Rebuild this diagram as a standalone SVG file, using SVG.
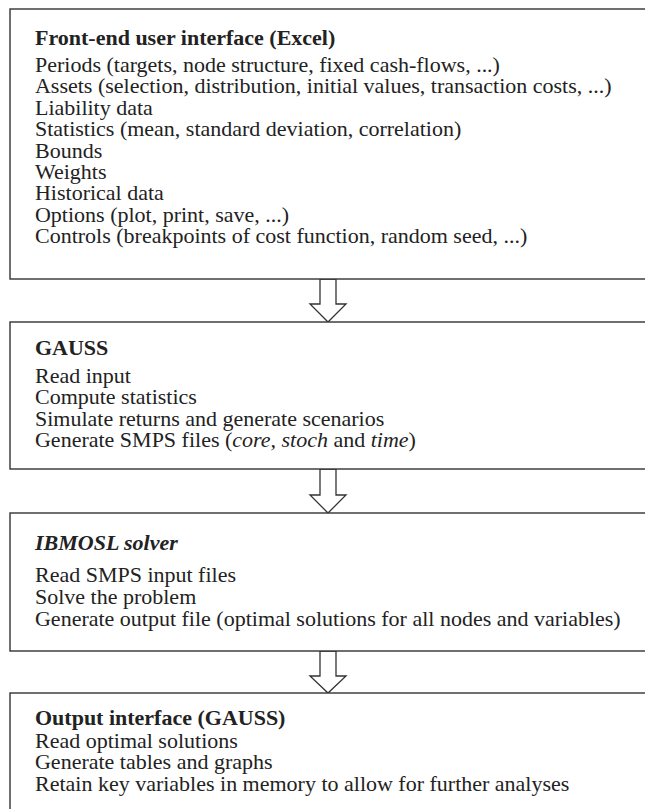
<svg xmlns="http://www.w3.org/2000/svg" width="645" height="809" viewBox="0 0 645 809">
<style>
.box{fill:#fff;stroke:#333;stroke-width:1.4}
.arr{fill:#fff;stroke:#333;stroke-width:1.3;stroke-linejoin:miter}
text{font-family:"Liberation Serif","Times New Roman",serif;font-size:20px;fill:#222}
.t{font-weight:bold}
.bi{font-weight:bold;font-style:italic}
.i{font-style:italic}
</style>
<rect width="645" height="809" fill="#fff"/>
<g id="connectors">
<polygon class="arr" points="320,279 336,279 336,304 346,304 328,322 310,304 320,304"/>
<polygon class="arr" points="320,469 336,469 336,495 346,495 328,513 310,495 320,495"/>
<polygon class="arr" points="320,651 336,651 336,676 346,676 328,693 310,676 320,676"/>
</g>
<g id="frontend">
<rect class="box" x="10" y="9" width="650" height="270"/>
<g transform="matrix(1.1 0 0 1 -3.5 0)">
<text class="t" x="35" y="45">Front-end user interface (Excel)</text>
<text x="35" y="72">Periods (targets, node structure, fixed cash-flows, ...)</text>
<text x="35" y="93.4">Assets (selection, distribution, initial values, transaction costs, ...)</text>
<text x="35" y="114.8">Liability data</text>
<text x="35" y="136.2">Statistics (mean, standard deviation, correlation)</text>
<text x="35" y="157.6">Bounds</text>
<text x="35" y="179">Weights</text>
<text x="35" y="200.4">Historical data</text>
<text x="35" y="221.8">Options (plot, print, save, ...)</text>
<text x="35" y="243.2">Controls (breakpoints of cost function, random seed, ...)</text>
</g>
</g>
<g id="gauss">
<rect class="box" x="10" y="322" width="650" height="147"/>
<g transform="matrix(1.1 0 0 1 -3.5 0)">
<text class="t" x="35" y="355">GAUSS</text>
<text x="35" y="383">Read input</text>
<text x="35" y="404.5">Compute statistics</text>
<text x="35" y="426">Simulate returns and generate scenarios</text>
<text x="35" y="447.5">Generate SMPS files (<tspan class="i">core, stoch</tspan> and <tspan class="i">time</tspan>)</text>
</g>
</g>
<g id="solver">
<rect class="box" x="10" y="513" width="650" height="138"/>
<g transform="matrix(1.1 0 0 1 -3.5 0)">
<text class="bi" x="35" y="550">IBMOSL solver</text>
<text x="35" y="582">Read SMPS input files</text>
<text x="35" y="604">Solve the problem</text>
<text x="35" y="626">Generate output file (optimal solutions for all nodes and variables)</text>
</g>
</g>
<g id="output">
<rect class="box" x="10" y="693" width="650" height="130"/>
<g transform="matrix(1.1 0 0 1 -3.5 0)">
<text class="t" x="35" y="725">Output interface (GAUSS)</text>
<text x="35" y="748">Read optimal solutions</text>
<text x="35" y="769.5">Generate tables and graphs</text>
<text x="35" y="791">Retain key variables in memory to allow for further analyses</text>
</g>
</g>
</svg>
